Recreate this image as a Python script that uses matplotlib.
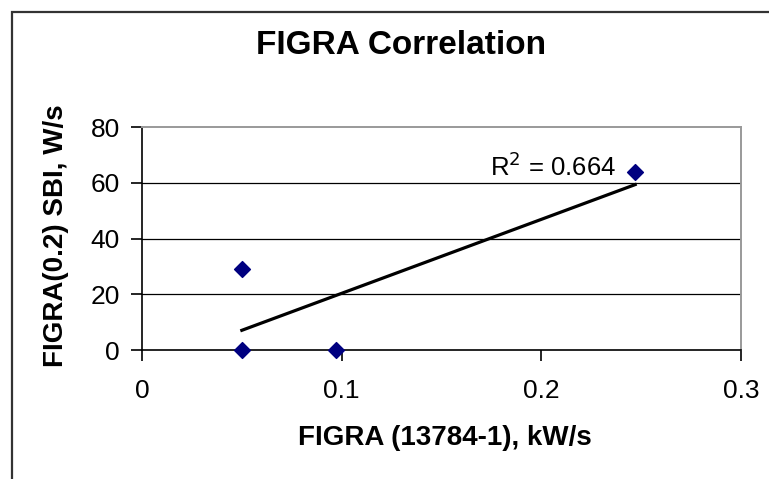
import numpy as np
import matplotlib
matplotlib.use('Agg')
import matplotlib.pyplot as plt
from matplotlib.patches import Rectangle

plt.rcParams['font.family'] = ['Liberation Sans', 'DejaVu Sans']

# data
figra_13784 = [0.05, 0.05, 0.097, 0.247]
figra_sbi = [29, 0, 0, 64]
r2_label = 0.664
x_ticks = [0, 0.1, 0.2, 0.3]
y_ticks = [0, 20, 40, 60, 80]

W, H = 769, 479
fig = plt.figure(figsize=(W / 100, H / 100), dpi=100)
ax = fig.add_axes([142 / W, 1 - 350 / H, (741 - 142) / W, (350 - 127) / H])

# outer chart border (cut off at right and bottom)
fig.add_artist(Rectangle((12 / W, -0.1), 1.0, (H - 12) / H + 0.1,
                         transform=fig.transFigure, fill=False, lw=1.6, ec='#333333'))

ax.scatter(figra_13784, figra_sbi, marker='D', s=65, color='#000080', zorder=3,
           clip_on=False)

# linear trendline
k, b = np.polyfit(figra_13784, figra_sbi, 1)
xs = np.array([min(figra_13784), max(figra_13784)])
ax.plot(xs, k * xs + b, color='black', lw=2.3, zorder=2)
ax.text(0.1745, 62.3, 'R$^2$ = %.3f' % r2_label, fontsize=18.5, ha='left', va='baseline')

ax.set_xlim(0, 0.3)
ax.set_ylim(0, 80)
ax.set_xticks(x_ticks)
ax.set_xticklabels(['0', '0.1', '0.2', '0.3'])
ax.set_yticks(y_ticks)
for v in y_ticks[1:-1]:
    ax.axhline(v, color='black', lw=0.9, zorder=1)

ax.spines['top'].set_color('#999999')
ax.spines['right'].set_color('#999999')
ax.spines['left'].set_linewidth(1.2)
ax.spines['bottom'].set_linewidth(1.2)
ax.spines['top'].set_linewidth(1.4)
ax.spines['right'].set_linewidth(1.4)
ax.tick_params(axis='both', direction='out', length=8, width=1.2, labelsize=19)
ax.tick_params(axis='x', pad=13)
ax.tick_params(axis='y', pad=8)

fig.text(401 / W, 1 - 46 / H, 'FIGRA Correlation', fontsize=24, fontweight='bold',
         ha='center', va='center')
fig.text(445 / W, 1 - 438 / H, 'FIGRA (13784-1), kW/s', fontsize=20, fontweight='bold',
         ha='center', va='center')
fig.text(56 / W, 1 - 236 / H, 'FIGRA(0.2) SBI, W/s', fontsize=20, fontweight='bold',
         ha='center', va='center', rotation=90)

fig.savefig('out.png', dpi=100)
